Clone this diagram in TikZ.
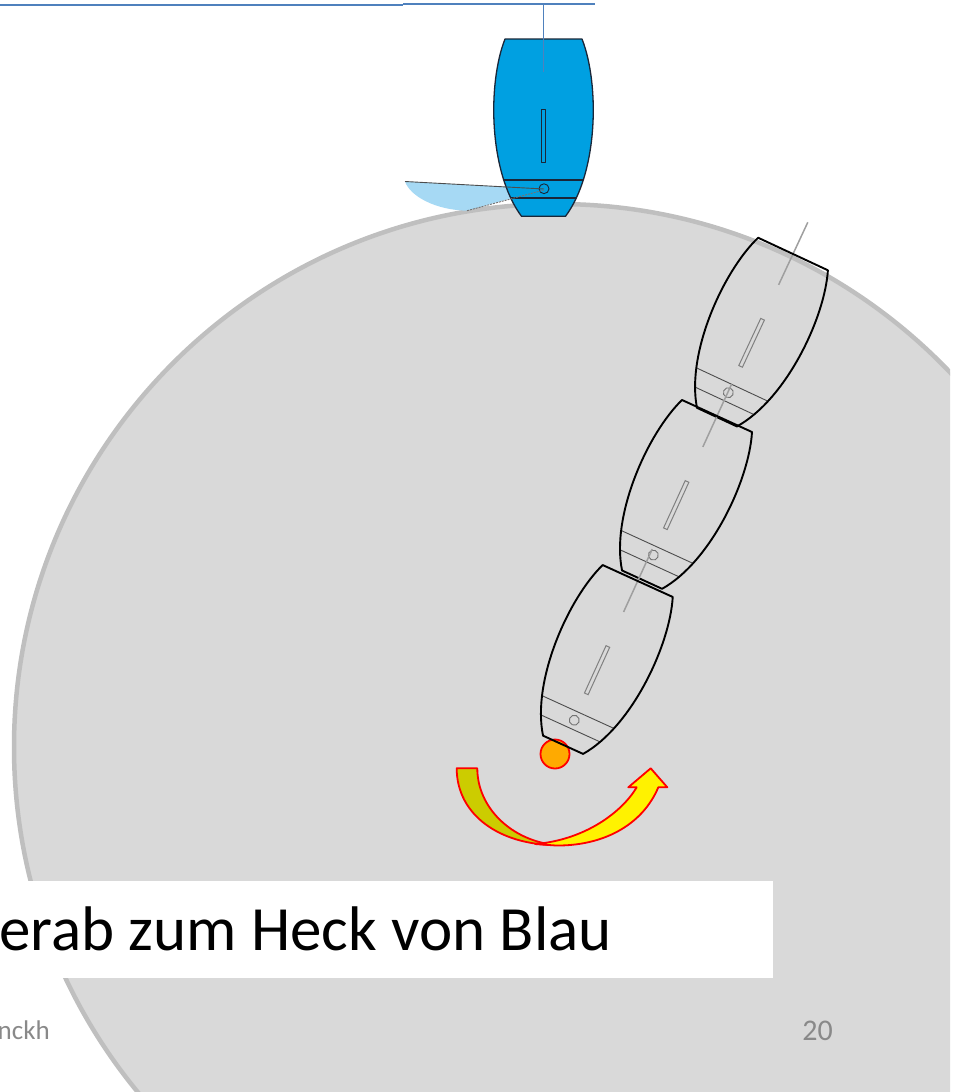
\documentclass[tikz,border=0pt]{standalone}
\usepackage{fontspec}
\setmainfont{Carlito}
\definecolor{circfill}{HTML}{D9D9D9}
\definecolor{circline}{HTML}{BFBFBF}
\definecolor{hdrline}{HTML}{4F81BD}
\definecolor{boatblue}{HTML}{00A0E1}
\definecolor{sailblue}{HTML}{A6D9F4}
\definecolor{navy}{HTML}{1A2638}
\definecolor{footgrey}{HTML}{898989}
\definecolor{darkyellow}{HTML}{CCCC00}
\definecolor{dotorange}{HTML}{FFAA00}
\newcommand\hullpath{(-38.5,0) -- (38.5,0) .. controls (56,45) and (55,135) .. (22,180) -- (-22,180) .. controls (-55,135) and (-56,45) .. (-38.5,0) -- cycle}
\tikzset{
  hullgrey/.style={draw=black, line width=1.9pt, line join=round},
  tlinegrey/.style={draw=black!70, line width=0.9pt},
  slotgrey/.style={draw=gray, line width=1pt},
  pivotgrey/.style={draw=gray!90!black, line width=0.9pt},
  mastgrey/.style={draw=gray!75, line width=1.5pt},
  navyline/.style={draw=navy, line width=1.3pt, line join=round},
  hdr/.style={draw=hdrline, line width=1.5pt},
  arrowline/.style={draw=red, line width=1.8pt, line join=round},
}
\newcommand\greyboat[2]{%
\begin{scope}[shift={#1},rotate=#2]
  \draw[mastgrey] (0,-35) -- (0,34);
  \begin{scope}
    \clip \hullpath;
    \draw[tlinegrey] (-70,144) -- (70,144) (-70,162) -- (70,162);
  \end{scope}
  \draw[slotgrey] (-2,72) rectangle (2,124);
  \draw[pivotgrey] (0,153) circle[radius=5pt];
  \draw[hullgrey] \hullpath;
\end{scope}}
\begin{document}
\begin{tikzpicture}[x=1pt,y=-1pt]
\useasboundingbox (0,0) rectangle (955,1092);
% big circle
\begin{scope}
  \clip (0,0) rectangle (950,1092);
  \fill[circfill] (557,747) circle[radius=543pt];
  \draw[circline, line width=4.5pt] (557,747) circle[radius=543pt];
\end{scope}
% orange mark
\filldraw[fill=dotorange, draw=red, line width=1.8pt] (555,754) circle[radius=14.5pt];
% grey boats
\greyboat{(793,254)}{-25}
\greyboat{(717,416)}{-24.6}
\greyboat{(637.7,581)}{-24.5}
% curved arrow
\filldraw[arrowline, fill=darkyellow] (456.7,768.3) .. controls (456.7,815) and (500,845) .. (556,845) .. controls (512,841) and (477.3,808) .. (477.3,768.3) -- cycle;
\filldraw[arrowline, fill=yellow] (535,844) .. controls (585,840) and (622,812) .. (636.7,787.3) -- (628.3,787.3) -- (650.7,768.3) -- (667.3,787.3) -- (658.3,787.3) .. controls (642,826) and (602,846) .. (556,845.5) -- cycle;
% sail fill
\fill[sailblue] (405,181.5) -- (544,189) -- (467,210.7) .. controls (435,210) and (410,196) .. (405,181.5) -- cycle;
% blue boat
\begin{scope}[shift={(543.5,39)}, yscale=0.985]
  \fill[boatblue] \hullpath;
  \begin{scope}
    \clip \hullpath;
    \draw[navyline] (-70,143) -- (70,143) (-70,161.5) -- (70,161.5);
  \end{scope}
  \draw[navyline, line width=0.9pt] (-2,72) rectangle (2,125);
  \draw[navyline, line width=0.9pt] (0.5,152) circle[radius=5pt];
  \draw[navyline] \hullpath;
\end{scope}
% sail edges
\draw[draw=black!70, line width=0.9pt] (405,181.5) -- (544,189);
\draw[draw=black!55, line width=0.9pt, dash pattern=on 2pt off 1pt] (467,210.7) -- (544,190);
% header lines and mast line
\draw[hdr] (0,5) -- (403,5);
\draw[hdr] (403,4) -- (595,4);
\draw[hdr, line width=1.3pt] (543.5,4) -- (543.5,72);
% title box
\fill[white] (0,880.7) rectangle (773,977.7);
\node[anchor=base east, inner sep=0pt, font=\fontsize{63}{70}\selectfont] (title) at (612,950) {erab zum Heck von Blau};
\node[anchor=base east, inner sep=0pt, text=footgrey, font=\fontsize{27}{30}\selectfont] (author) at (50,1039.5) {nckh};
\node[anchor=base east, inner sep=0pt, text=footgrey, font=\fontsize{30}{34}\selectfont] (pagenum) at (833,1040) {20};
\end{tikzpicture}
\end{document}
